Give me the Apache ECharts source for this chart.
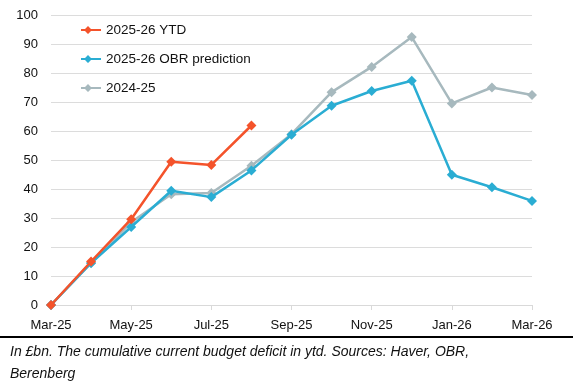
<!DOCTYPE html>
<html>
<head>
<meta charset="utf-8">
<script src="https://cdn.jsdelivr.net/npm/echarts@6/dist/echarts.min.js"></script>
<style>
html,body{margin:0;padding:0;background:#fff;}
#chart{width:573px;height:392px;}
</style>
</head>
<body>
<div id="chart"></div>
<script>
const categories = ['Mar-25','Apr-25','May-25','Jun-25','Jul-25','Aug-25','Sep-25','Oct-25','Nov-25','Dec-25','Jan-26','Feb-26','Mar-26'];
const ytd2526 = [0, 15, 29.6, 49.4, 48.3, 61.9];
const obr2526 = [0, 14.5, 26.9, 39.4, 37.2, 46.4, 58.7, 68.7, 73.8, 77.3, 44.9, 40.6, 35.9];
const fy2425 = [0, 14.4, 28.5, 38.2, 38.6, 48.0, 58.9, 73.4, 82.1, 92.4, 69.5, 75.0, 72.4];
const yTicks = [0,10,20,30,40,50,60,70,80,90,100];
const seriesNames = ['2025-26 YTD', '2025-26 OBR prediction', '2024-25'];
const caption1 = 'In £bn. The cumulative current budget deficit in ytd. Sources: Haver, OBR,';
const caption2 = 'Berenberg';

const colors = ['#F4532B', '#2AADD3', '#A7B9BE'];
const font = '"Liberation Sans", Arial, sans-serif';

const chart = echarts.init(document.getElementById('chart'), null, {renderer: 'canvas'});
function mk(name, data, color, z) {
  return {
    name: name, type: 'line', data: data, z: z,
    symbol: 'diamond', symbolSize: 10,
    lineStyle: {color: color, width: 2.5},
    itemStyle: {color: color},
    animation: false
  };
}
chart.setOption({
  animation: false,
  grid: {left: 51, right: 41, top: 15, bottom: 87, containLabel: false},
  legend: {
    orient: 'vertical', left: 76, top: 18, itemGap: 15,
    itemWidth: 20, itemHeight: 14,
    textStyle: {fontFamily: font, fontSize: 13.5, color: '#111'},
    data: seriesNames.map(function(n){return {name: n, icon: 'path://M0,8 L4,8 L7,5 L10,8 L20,8 L20,10 L10,10 L7,13 L4,10 L0,10 Z'};})
  },
  xAxis: {
    type: 'category', data: categories, boundaryGap: false,
    axisLine: {lineStyle: {color: '#d9d9d9', width: 1}},
    axisTick: {show: true, interval: 1, length: 5, lineStyle: {color: '#d9d9d9'}},
    axisLabel: {interval: 1, fontFamily: font, fontSize: 13, color: '#111', margin: 14},
    splitLine: {show: false}
  },
  yAxis: {
    type: 'value', min: yTicks[0], max: yTicks[yTicks.length-1], interval: 10,
    axisLine: {show: false}, axisTick: {show: false},
    axisLabel: {fontFamily: font, fontSize: 13, color: '#111', margin: 13},
    splitLine: {lineStyle: {color: '#dcdcdc', width: 1}}
  },
  series: [
    mk(seriesNames[2], fy2425, colors[2], 2),
    mk(seriesNames[1], obr2526, colors[1], 3),
    mk(seriesNames[0], ytd2526, colors[0], 4)
  ],
  color: [colors[2], colors[1], colors[0]],
  graphic: [
    {type: 'rect', left: 0, top: 336, shape: {width: 573, height: 2}, style: {fill: '#000'}},
    {type: 'text', left: 10, top: 345, style: {text: caption1, fontFamily: font, fontStyle: 'italic', fontSize: 14, fill: '#111'}},
    {type: 'text', left: 10, top: 367, style: {text: caption2, fontFamily: font, fontStyle: 'italic', fontSize: 14, fill: '#111'}}
  ]
});
</script>
</body>
</html>
